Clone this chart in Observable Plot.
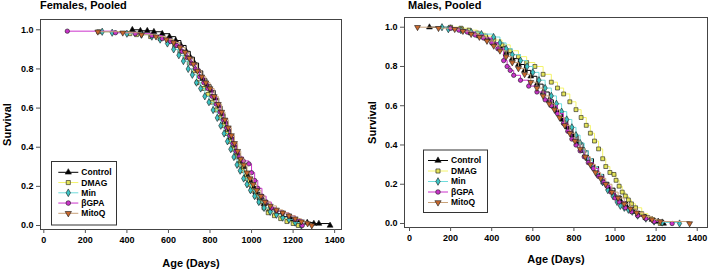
<!DOCTYPE html>
<html><head><meta charset="utf-8">
<script src="https://cdn.jsdelivr.net/npm/d3@7"></script>
<script src="https://cdn.jsdelivr.net/npm/@observablehq/plot@0.6"></script>
<style>
body{margin:0;background:#fff;font-family:"Liberation Sans",Arial,sans-serif;}
#wrap{position:relative;width:709px;height:271px;overflow:hidden;background:#fff}
.panel{position:absolute;top:0}
.title{position:absolute;top:0;font-weight:bold;font-size:11px;line-height:11px;white-space:nowrap}
svg.legend{position:absolute;left:0;top:0;pointer-events:none}
</style></head>
<body><div id="wrap"></div>
<script>
// ---------- data (age in days, survival fraction) ----------
const groups = ["Control", "DMAG", "Min", "βGPA", "MitoQ"];
const xTicks = [0, 200, 400, 600, 800, 1000, 1200, 1400];
const yTicks = [0, 0.2, 0.4, 0.6, 0.8, 1.0];

const femControl = [[426,1.0],[465,0.995],[498,0.995],[530,0.99],[570,0.98],[605,0.965],[635,0.945],[660,0.92],[685,0.89],[705,0.86],[725,0.83],[745,0.79],[765,0.75],[785,0.72],[805,0.69],[825,0.65],[842,0.61],[858,0.57],[872,0.53],[886,0.49],[900,0.45],[915,0.41],[930,0.37],[945,0.33],[960,0.30],[975,0.26],[990,0.23],[1005,0.20],[1020,0.17],[1040,0.14],[1060,0.11],[1085,0.08],[1115,0.06],[1150,0.045],[1190,0.03],[1230,0.02],[1268,0.015],[1300,0.01],[1324,0.01],[1378,0.0]];
const femDMAG = [[264,0.99],[414,0.98],[446,0.975],[514,0.965],[560,0.955],[600,0.94],[630,0.92],[655,0.89],[680,0.86],[700,0.83],[720,0.79],[738,0.73],[770,0.70],[790,0.67],[810,0.63],[830,0.59],[848,0.55],[865,0.51],[880,0.47],[895,0.43],[910,0.39],[925,0.35],[940,0.31],[955,0.28],[970,0.24],[985,0.21],[1000,0.18],[1020,0.15],[1040,0.12],[1060,0.09],[1080,0.065],[1110,0.05],[1140,0.035],[1170,0.02],[1200,0.01],[1225,0.0]];
const femMin = [[281,0.99],[329,0.985],[400,0.98],[470,0.975],[520,0.965],[560,0.95],[595,0.93],[625,0.90],[650,0.87],[672,0.84],[695,0.80],[715,0.77],[735,0.73],[755,0.70],[775,0.66],[795,0.63],[815,0.59],[835,0.55],[852,0.51],[868,0.47],[884,0.43],[900,0.39],[915,0.35],[930,0.31],[945,0.28],[962,0.24],[978,0.21],[995,0.18],[1015,0.15],[1035,0.12],[1060,0.09],[1090,0.07],[1120,0.055],[1150,0.04],[1180,0.03],[1210,0.015],[1240,0.0]];
const femBGPA = [[113,0.993],[345,0.985],[440,0.98],[520,0.97],[570,0.955],[610,0.94],[640,0.92],[665,0.89],[690,0.86],[710,0.83],[730,0.80],[750,0.76],[770,0.73],[790,0.70],[810,0.66],[830,0.62],[848,0.58],[864,0.54],[880,0.50],[895,0.46],[910,0.42],[925,0.38],[940,0.35],[960,0.33],[987,0.315],[1000,0.27],[1015,0.23],[1030,0.19],[1050,0.15],[1070,0.12],[1095,0.09],[1120,0.075],[1150,0.065],[1180,0.05],[1210,0.03],[1244,0.0]];
const femMitoQ = [[260,0.99],[380,0.985],[470,0.975],[540,0.965],[590,0.95],[625,0.935],[655,0.91],[680,0.885],[700,0.855],[720,0.825],[740,0.79],[760,0.76],[780,0.73],[800,0.70],[820,0.66],[840,0.62],[856,0.58],[872,0.54],[888,0.50],[903,0.46],[918,0.42],[933,0.38],[948,0.34],[963,0.31],[978,0.27],[993,0.24],[1008,0.21],[1025,0.18],[1045,0.15],[1065,0.12],[1090,0.10],[1120,0.08],[1150,0.065],[1180,0.05],[1210,0.035],[1240,0.02],[1270,0.01],[1290,0.0]];

const malControl = [[97,1.0],[200,0.995],[260,0.985],[300,0.97],[340,0.955],[380,0.94],[410,0.92],[440,0.90],[470,0.87],[500,0.84],[530,0.81],[560,0.78],[590,0.75],[620,0.71],[650,0.67],[680,0.63],[700,0.60],[720,0.57],[745,0.53],[770,0.49],[795,0.45],[820,0.41],[845,0.37],[870,0.33],[895,0.29],[920,0.25],[945,0.21],[970,0.18],[1000,0.14],[1030,0.11],[1060,0.08],[1090,0.06],[1120,0.045],[1150,0.03],[1180,0.02],[1210,0.01],[1236,0.0]];
const malDMAG = [[200,1.0],[250,0.995],[290,0.985],[330,0.97],[370,0.955],[410,0.935],[450,0.91],[490,0.88],[530,0.85],[570,0.82],[610,0.80],[650,0.76],[690,0.72],[720,0.69],[750,0.66],[780,0.62],[810,0.58],[835,0.54],[860,0.50],[880,0.46],[900,0.42],[920,0.38],[940,0.33],[955,0.29],[975,0.26],[995,0.25],[1005,0.22],[1020,0.19],[1035,0.16],[1050,0.14],[1065,0.12],[1080,0.10],[1100,0.08],[1130,0.05],[1160,0.03],[1190,0.015],[1220,0.0]];
const malMin = [[158,1.0],[189,0.99],[250,0.985],[300,0.975],[350,0.965],[409,0.95],[440,0.92],[470,0.89],[500,0.86],[540,0.83],[572,0.80],[600,0.77],[630,0.73],[660,0.69],[690,0.65],[715,0.61],[740,0.57],[765,0.53],[790,0.49],[810,0.45],[830,0.41],[850,0.37],[870,0.33],[890,0.29],[915,0.25],[940,0.21],[965,0.17],[990,0.14],[1010,0.11],[1026,0.09],[1045,0.08],[1065,0.07],[1084,0.06],[1110,0.04],[1150,0.025],[1190,0.01],[1230,0.005],[1314,0.0]];
const malBGPA = [[200,0.995],[240,0.985],[281,0.975],[320,0.96],[360,0.945],[400,0.92],[430,0.89],[458,0.83],[475,0.80],[490,0.78],[507,0.755],[540,0.73],[580,0.70],[620,0.67],[660,0.63],[690,0.60],[720,0.56],[749,0.51],[770,0.47],[790,0.43],[810,0.40],[830,0.37],[850,0.34],[870,0.31],[895,0.28],[920,0.24],[945,0.21],[961,0.19],[980,0.16],[1000,0.13],[1020,0.11],[1050,0.08],[1080,0.06],[1110,0.04],[1150,0.025],[1190,0.01],[1278,0.0]];
const malMitoQ = [[39,1.0],[141,0.995],[220,0.99],[260,0.98],[300,0.965],[340,0.95],[377,0.93],[410,0.905],[440,0.88],[470,0.85],[500,0.82],[530,0.79],[560,0.76],[590,0.72],[620,0.69],[650,0.65],[680,0.61],[705,0.58],[730,0.54],[755,0.50],[780,0.46],[805,0.42],[830,0.38],[855,0.34],[880,0.30],[905,0.26],[930,0.23],[955,0.20],[985,0.16],[1015,0.13],[1045,0.10],[1075,0.075],[1105,0.055],[1140,0.035],[1180,0.02],[1220,0.01],[1363,0.0]];

const females = {"Control": femControl, "DMAG": femDMAG, "Min": femMin, "βGPA": femBGPA, "MitoQ": femMitoQ};
const males = {"Control": malControl, "DMAG": malDMAG, "Min": malMin, "βGPA": malBGPA, "MitoQ": malMitoQ};

// ---------- styles ----------
const lineColor = {"Control":"#000000","DMAG":"#f4f46a","Min":"#6fdcdc","βGPA":"#cc33cc","MitoQ":"#c9a27a"};
const fillColor = {"Control":"#000000","DMAG":"#e4e45a","Min":"#3cc4c4","βGPA":"#c832c8","MitoQ":"#c8682e"};
const triangleDown = {draw(context, size){
  const s3 = Math.sqrt(3);
  const y = -Math.sqrt(size / (s3 * 3));
  context.moveTo(0, -y * 2); context.lineTo(-s3 * y, y); context.lineTo(s3 * y, y); context.closePath();
}};
const symbolOf = {"Control":"triangle","DMAG":"square","Min":"diamond","βGPA":"circle","MitoQ":triangleDown};
const d3SymbolOf = {"Control":d3.symbolTriangle,"DMAG":d3.symbolSquare,"Min":d3.symbolDiamond,"βGPA":d3.symbolCircle,"MitoQ":triangleDown};

function rows(obj, g){ return obj[g].map(([age, surv]) => ({age, surv, group: g})); }

function panel(obj, o){
  const marks = [];
  for (const g of groups){
    const d = rows(obj, g);
    marks.push(Plot.line(d, {x:"age", y:"surv", curve:"step-after", stroke: lineColor[g], strokeWidth: 1}));
    marks.push(Plot.dot(d, {x:"age", y:"surv", symbol: symbolOf[g], r: 2.2, fill: fillColor[g], stroke:"#1a1a1a", strokeWidth: 0.6}));
  }
  marks.push(Plot.frame({stroke:"#444", strokeWidth:1}));
  marks.push(Plot.axisX({ticks: xTicks, tickSize: 4, tickPadding: 3, tickFormat: d => String(d), label: "Age (Days)", labelAnchor:"center", labelArrow:"none", labelOffset: o.xLabelOffset, stroke:"#555"}));
  marks.push(Plot.axisY({ticks: yTicks, tickSize: 4, tickPadding: 3, tickFormat: d3.format(".1f"), label: "Survival", labelAnchor:"center", labelArrow:"none", labelOffset: o.yLabelOffset, stroke:"#555"}));
  const svg = Plot.plot({
    width: o.width, height: 271,
    marginLeft: o.ml, marginRight: o.mr, marginTop: o.mt, marginBottom: o.mb,
    x: {domain: o.xDomain},
    y: {domain: o.yDomain},
    style: {fontFamily: '"Liberation Sans", Arial, sans-serif', fontSize: "9px", fontWeight: "bold", color: "#000", background: "transparent", overflow: "visible"},
    marks
  });
  d3.select(svg).selectAll('g[aria-label="x-axis label"] text, g[aria-label="y-axis label"] text').style("font-size","11px");
  return svg;
}

const wrap = document.getElementById("wrap");
function place(el, left){ const div = document.createElement("div"); div.className="panel"; div.style.left = left+"px"; div.appendChild(el); wrap.appendChild(div); }

place(panel(females, {width:354, ml:40, mr:13, mt:19, mb:42, xDomain:[-16,1433], yDomain:[-0.0204,1.0526], xLabelOffset:37, yLabelOffset:37}), 0);
place(panel(males, {width:355, ml:50, mr:2, mt:17, mb:44, xDomain:[-24.4,1450], yDomain:[-0.0204,1.0495], xLabelOffset:35, yLabelOffset:36}), 354);

// titles
for (const [txt, left] of [["Females, Pooled", 40], ["Males, Pooled", 408]]){
  const t = document.createElement("div"); t.className = "title"; t.style.left = left+"px"; t.textContent = txt; wrap.appendChild(t);
}

// legends
const lsvg = d3.select(wrap).append("svg").attr("class","legend").attr("width",709).attr("height",271);
function legend(box, lineX0, rowY0, rowStep){
  const g = lsvg.append("g");
  g.append("rect").attr("x",box[0]).attr("y",box[1]).attr("width",box[2]).attr("height",box[3]).attr("fill","#fff").attr("stroke","#333").attr("stroke-width",1);
  groups.forEach((grp, i) => {
    const y = rowY0 + i*rowStep;
    g.append("line").attr("x1",lineX0).attr("x2",lineX0+20).attr("y1",y).attr("y2",y).attr("stroke",lineColor[grp]).attr("stroke-width",1);
    g.append("path").attr("transform",`translate(${lineX0+10},${y})`).attr("d", d3.symbol(d3SymbolOf[grp], 17)()).attr("fill",fillColor[grp]).attr("stroke","#1a1a1a").attr("stroke-width",0.6);
    g.append("text").attr("x",lineX0+23).attr("y",y).attr("dy","0.35em").attr("font-family",'"Liberation Sans", Arial, sans-serif').attr("font-size","8.5px").attr("font-weight","bold").text(grp);
  });
}
legend([51.5,161.5,65,63.5], 58.3, 172.3, 10.25);
legend([423.5,150,64,62.5], 428, 160.5, 10.5);
</script></body></html>
